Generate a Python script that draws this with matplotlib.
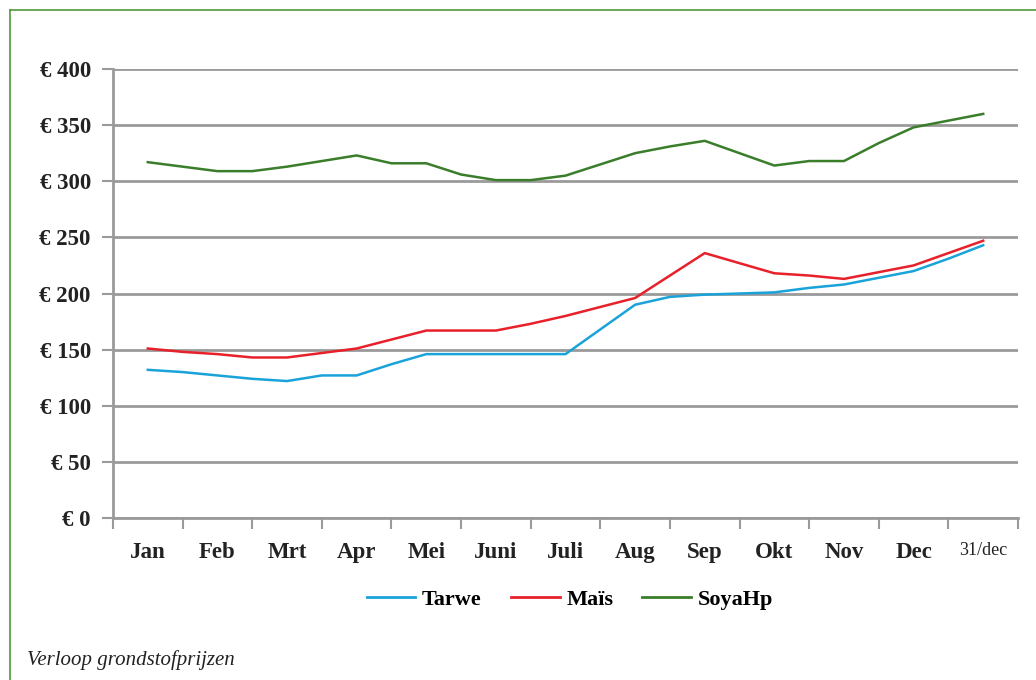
import numpy as np
import matplotlib.pyplot as plt
from matplotlib.lines import Line2D

months = ["Jan", "Feb", "Mrt", "Apr", "Mei", "Juni", "Juli", "Aug", "Sep", "Okt", "Nov", "Dec", "31/dec"]

# twee waarden per maand (begin en midden), laatste punt = 31/dec
tarwe = [132, 130, 127, 124, 122, 127, 127, 137, 146, 146, 146, 146, 146,
         168, 190, 197, 199, 200, 201, 205, 208, 214, 220, 231, 243]
mais = [151, 148, 146, 143, 143, 147, 151, 159, 167, 167, 167, 173, 180,
        188, 196, 216, 236, 227, 218, 216, 213, 219, 225, 236, 247]
soya = [317, 313, 309, 309, 313, 318, 323, 316, 316, 306, 301, 301, 305,
        315, 325, 331, 336, 325, 314, 318, 318, 334, 348, 354, 360]

x = np.arange(len(tarwe)) / 2.0

fig = plt.figure(figsize=(10.36, 6.8), dpi=100)
ax = fig.add_axes([113 / 1036, 1 - 518 / 680, (1018 - 113) / 1036, (518 - 69) / 680])

grey = "#9a9a9a"
ax.plot(x, tarwe, color="#1aa3d9", lw=1.8, label="Tarwe")
ax.plot(x, mais, color="#e8202a", lw=1.8, label="Maïs")
ax.plot(x, soya, color="#3a7d2a", lw=1.8, label="SoyaHp")

ax.set_xlim(-0.5, 12.5)
ax.set_ylim(0, 400)
ax.set_yticks(range(0, 401, 50))
ax.set_yticklabels(["€ %d" % v for v in range(0, 401, 50)])
ax.yaxis.grid(True, color=grey, lw=2)
ax.set_axisbelow(True)

ax.set_xticks(np.arange(13))
ax.set_xticklabels(months)
ax.set_xticks(np.arange(-0.5, 13, 1), minor=True)
ax.tick_params(axis="x", which="major", length=0, pad=17)
ax.tick_params(axis="x", which="minor", length=8, width=1.5, color=grey, direction="out")
ax.tick_params(axis="y", length=8, width=1.5, color=grey, pad=8)

for lab in ax.get_xticklabels() + ax.get_yticklabels():
    lab.set_family("Liberation Serif")
    lab.set_fontweight("bold")
    lab.set_fontsize(16.5)
    lab.set_color("#222222")
ax.get_xticklabels()[-1].set_fontsize(13)
ax.get_xticklabels()[-1].set_fontweight("normal")

for s in ["top", "right"]:
    ax.spines[s].set_visible(False)
for s in ["left", "bottom"]:
    ax.spines[s].set_color(grey)
    ax.spines[s].set_linewidth(2)

handles = [Line2D([], [], color=c, lw=2) for c in ["#1aa3d9", "#e8202a", "#3a7d2a"]]
fig.legend(handles, ["Tarwe", "Maïs", "SoyaHp"], loc="center", bbox_to_anchor=(0.55, 1 - 600 / 680),
           ncol=3, frameon=False, handlelength=2.2, handletextpad=0.3, columnspacing=1.3,
           prop={"family": "Liberation Serif", "weight": "bold", "size": 16})

fig.text(27 / 1036, 1 - 660 / 680, "Verloop grondstofprijzen", family="Liberation Serif",
         style="italic", fontsize=15, color="#222222", va="center")

# groene kader links en boven
fig.add_artist(Line2D([10 / 1036, 10 / 1036], [0, 1 - 10 / 680], transform=fig.transFigure, color="#4f9a3a", lw=1.2))
fig.add_artist(Line2D([10 / 1036, 1], [1 - 10 / 680, 1 - 10 / 680], transform=fig.transFigure, color="#4f9a3a", lw=1.2))

fig.savefig("out.png", dpi=100)
